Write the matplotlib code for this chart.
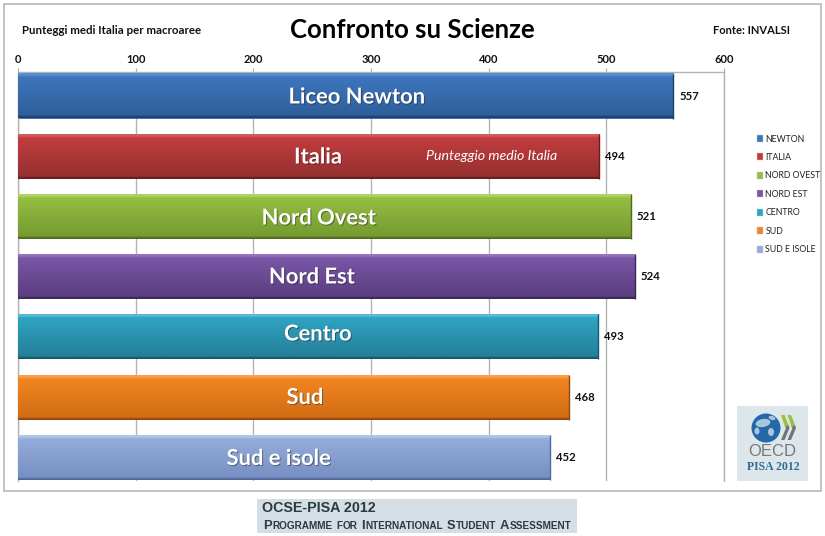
import numpy as np
import matplotlib
matplotlib.use("Agg")
import matplotlib.pyplot as plt
import matplotlib.patheffects as pe
from matplotlib.colors import LinearSegmentedColormap
from matplotlib.patches import Rectangle, Circle, Polygon, Patch, Ellipse

categories = ["Liceo Newton", "Italia", "Nord Ovest", "Nord Est", "Centro", "Sud", "Sud e isole"]
legend_labels = ["NEWTON", "ITALIA", "NORD OVEST", "NORD EST", "CENTRO", "SUD", "SUD E ISOLE"]
values = [557, 494, 521, 524, 493, 468, 452]
x_ticks = [0, 100, 200, 300, 400, 500, 600]

top_colors = ["#5a90d2", "#d45a5c", "#b0d264", "#9274bc", "#55bcd6", "#f9a04a", "#b2c6e8"]
up_colors = ["#3d76bd", "#c23c3e", "#94bf42", "#7a56a6", "#30a4c2", "#f28522", "#93acdb"]
bot_colors = ["#2f5f9b", "#963030", "#769a30", "#5b3e80", "#247f9a", "#d26d14", "#7790c2"]
edge_colors = ["#1e3f6c", "#6a1c1e", "#506b1e", "#3c2858", "#16586c", "#94480a", "#52689a"]
label_px = [357, 318, 319, 312, 318, 305, 279]
label_py = [97, 157, 218, 277, 334, 397.5, 458.5]

W, H = 825, 536
plt.rcParams["font.family"] = ["Lato", "DejaVu Sans"]
fig = plt.figure(figsize=(W / 100, H / 100), dpi=100, facecolor="white")


def fx(x):
    return x / W


def fy(y):
    return 1 - y / H


def ftext(x, y, s, **kw):
    kw.setdefault("ha", "left")
    kw.setdefault("va", "center")
    return fig.text(fx(x), fy(y), s, **kw)


# outer frame
fig.add_artist(Rectangle((fx(4), fy(490.5)), (820.5 - 4) / W, (490.5 - 3.5) / H,
                         transform=fig.transFigure, fill=False, ec="#bdbdbd", lw=1.3))

left, right, top, bottom = 18, 724, 72, 481
ax = fig.add_axes([fx(left), fy(bottom), (right - left) / W, (bottom - top) / H])
ax.set_xlim(0, 600)
c0, step = 96, 60.25
ylim = ((bottom - c0) / step, (top - c0) / step)
ax.set_ylim(*ylim)
ax.set_facecolor("none")
ax.xaxis.tick_top()
ax.set_xticks(x_ticks)
ax.set_yticks([])
ax.tick_params(axis="x", length=3, color="#b4b4b4", width=0.9, labelsize=8, pad=2, labelcolor="#111111")
for lab in ax.get_xticklabels():
    lab.set_fontweight("bold")
ax.grid(axis="x", color="#b4b4b4", lw=1.0, zorder=0)
ax.set_axisbelow(True)
ax.spines["bottom"].set_visible(False)
for s in ["top", "left", "right"]:
    ax.spines[s].set_color("#b4b4b4")
    ax.spines[s].set_linewidth(1.0)

bar_h = 45.0 / step
y = np.arange(len(values))
bars = ax.barh(y, values, height=bar_h, color=up_colors, zorder=2, edgecolor="none")
for b, ct, cu, cb, ce in zip(bars, top_colors, up_colors, bot_colors, edge_colors):
    cmap = LinearSegmentedColormap.from_list(
        "g", [(0, ct), (0.04, ct), (0.08, cu), (0.94, cb), (0.975, ce), (1, ce)])
    grad = np.linspace(0, 1, 128).reshape(-1, 1)
    x0, w = b.get_x(), b.get_width()
    y0, h = b.get_y(), b.get_height()
    ax.imshow(grad, cmap=cmap, extent=[x0, x0 + w, y0 + h, y0], aspect="auto", zorder=3, interpolation="bilinear")
    ax.plot([x0 + w, x0 + w], [y0, y0 + h], color=ce, lw=1.0, zorder=4, solid_capstyle="butt")
ax.set_xlim(0, 600)
ax.set_ylim(*ylim)

for yi, v, name, lx, ly in zip(y, values, categories, label_px, label_py):
    ax.text(v + 5, yi, str(v), fontsize=8.2, fontweight="bold", color="#111111", va="center", ha="left", zorder=5)
    ftext(lx, ly, name, ha="center", fontsize=15.8, fontweight="bold", color="white", zorder=6,
          path_effects=[pe.withSimplePatchShadow(offset=(0.7, -0.7), shadow_rgbFace="#222222", alpha=0.5)])

ftext(492, 156, "Punteggio medio Italia", ha="center", fontsize=10.2, style="italic", color="white", zorder=6)
ftext(22, 31, "Punteggi medi Italia per macroaree", fontsize=8.25, fontweight="bold", color="#111111")
ftext(412, 29.5, "Confronto su Scienze", ha="center", fontsize=18.5, fontweight="bold", color="black")
ftext(713, 31, "Fonte: INVALSI", fontsize=8, fontweight="bold", color="#111111")

# legend
handles = [Patch(facecolor=c, edgecolor="#c8c8c8", lw=0.3) for c in up_colors]
leg = fig.legend(handles, legend_labels, loc="upper left", bbox_to_anchor=(fx(757), fy(134.5)),
                 frameon=False, fontsize=6.3, handlelength=0.7, handleheight=0.85, handletextpad=0.25,
                 labelspacing=1.08, borderpad=0, borderaxespad=0, labelcolor="#222222")

# OECD logo
fig.add_artist(Rectangle((fx(737), fy(481)), 71 / W, 75 / H, transform=fig.transFigure, fc="#dde6ea", ec="none", zorder=3))
logo = fig.add_axes([0, 0, 1, 1], facecolor="none", zorder=4)
logo.set_xlim(0, W)
logo.set_ylim(H, 0)
logo.axis("off")
globe = Circle((766, 428), 14.5, fc="#2468a8", ec="none")
logo.add_patch(globe)
for (ex, ey, ew, eh, ang) in [(763, 423, 15, 8, -10), (771, 432, 6, 8, 0), (757, 431, 5, 7, 0), (772, 418, 7, 4, 20)]:
    p = Ellipse((ex, ey), ew, eh, angle=ang, fc="#a8c5da", ec="none")
    logo.add_patch(p)
    p.set_clip_path(globe)
for dx in (0, 6.5):
    logo.add_patch(Polygon([(781 + dx, 415), (784.5 + dx, 415), (788.5 + dx, 425), (785 + dx, 427)],
                           fc="#9bbf3f", ec="none"))
    logo.add_patch(Polygon([(785 + dx, 427), (788.5 + dx, 425), (789.5 + dx, 428), (784.5 + dx, 440), (781 + dx, 440), (786 + dx, 428)],
                           fc="#747474", ec="none"))
logo.text(772.5, 451, "OECD", ha="center", va="center", fontsize=12, color="#777777", family="Liberation Sans")
logo.text(773.5, 466.5, "PISA 2012", ha="center", va="center", fontsize=8.5, color="#2f6c94", family="Liberation Serif", fontweight="bold")

# footer
logo.add_patch(Rectangle((257, 499), 320, 34, fc="#d4dee4", ec="none"))
logo.text(262, 508.5, "OCSE-PISA 2012", ha="left", va="center", fontsize=10.3, fontweight="bold", color="#2b3a42", family="Liberation Sans")
renderer = fig.canvas.get_renderer()
cx = 263
for word in "Programme for International Student Assessment".split():
    cap = word[0].isupper()
    for part, size in ((word[0].upper(), 9.4 if cap else 7.2), (word[1:].upper(), 7.2)):
        t = logo.text(cx, 529, part, ha="left", va="baseline", fontsize=size, fontweight="bold",
                      color="#2b3a42", family="Liberation Sans")
        cx = t.get_window_extent(renderer).x1 + 0.5
    cx += 3.2

fig.savefig("out.png", dpi=100, facecolor="white")
